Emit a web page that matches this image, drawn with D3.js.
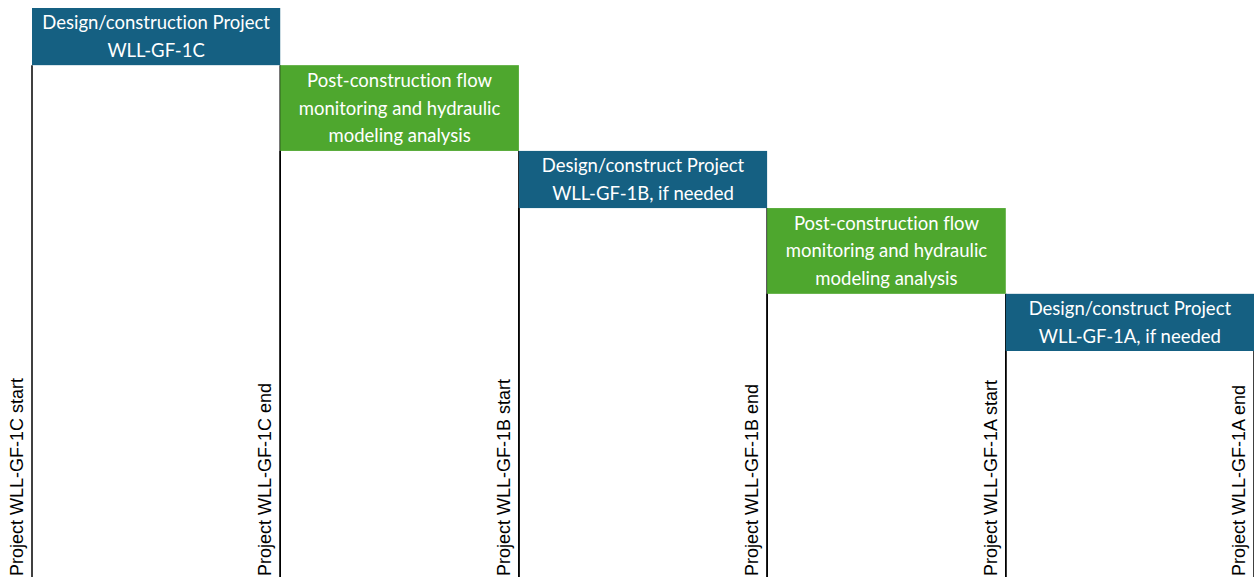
<!DOCTYPE html>
<html><head><meta charset="utf-8">
<script src="https://cdn.jsdelivr.net/npm/d3@7"></script>
<style>html,body{margin:0;padding:0;background:#fff;overflow:hidden}</style>
</head><body>
<svg id="chart" width="1254" height="577"></svg>
<script>
const phases = [
  "Design/construction Project\nWLL-GF-1C",
  "Post-construction flow\nmonitoring and hydraulic\nmodeling analysis",
  "Design/construct Project\nWLL-GF-1B, if needed",
  "Post-construction flow\nmonitoring and hydraulic\nmodeling analysis",
  "Design/construct Project\nWLL-GF-1A, if needed"
];
const phaseKind = ["design", "monitor", "design", "monitor", "design"];
const phaseStart = [0, 26, 51, 77, 102];
const phaseEnd = [26, 51, 77, 102, 128];
const milestoneLabels = [
  "Project WLL-GF-1C start", "Project WLL-GF-1C end",
  "Project WLL-GF-1B start", "Project WLL-GF-1B end",
  "Project WLL-GF-1A start", "Project WLL-GF-1A end"
];
const milestoneTimes = [0, 26, 51, 77, 102, 128];

const W = 1254, H = 577;
const svg = d3.select("#chart");
const x = d3.scaleLinear().domain([0, 128]).range([32, 1254]);
const lineCounts = phases.map(p => p.split("\n").length);
const cum = [0]; lineCounts.forEach((c, i) => cum.push(cum[i] + c));
const y = d3.scaleLinear().domain([0, cum[cum.length - 1]]).range([8, 351]);
const color = d3.scaleOrdinal().domain(["design", "monitor"]).range(["#156082", "#4EA72E"]);

const g = svg.append("g");
phases.forEach((p, i) => {
  const x0 = x(phaseStart[i]), x1 = x(phaseEnd[i]);
  const y0 = y(cum[i]), y1 = y(cum[i + 1]);
  g.append("line").attr("x1", x0).attr("x2", x0).attr("y1", y1).attr("y2", H)
    .attr("stroke", "#000").attr("stroke-width", 1.5);
  g.append("line").attr("x1", x1).attr("x2", x1).attr("y1", y1).attr("y2", H)
    .attr("stroke", "#000").attr("stroke-width", 1.5);
  g.append("rect").attr("x", x0).attr("y", y0).attr("width", x1 - x0).attr("height", y1 - y0)
    .attr("fill", color(phaseKind[i]));
  const lines = p.split("\n");
  const cy = (y0 + y1) / 2, lh = 27.6;
  const t = g.append("text").attr("text-anchor", "middle").attr("fill", "#fff")
    .style("font-family", "Lato, 'Noto Sans', sans-serif").style("font-size", "18.5px")
    .style("font-variant-ligatures", "none");
  lines.forEach((l, k) => {
    t.append("tspan").attr("x", (x0 + x1) / 2)
      .attr("y", cy + (k - (lines.length - 1) / 2) * lh).attr("dy", "0.35em").text(l);
  });
});

milestoneLabels.forEach((m, i) => {
  const lx = x(milestoneTimes[i]) - 9;
  svg.append("text").attr("transform", `translate(${lx},${H - 1}) rotate(-90)`)
    .attr("text-anchor", "start").attr("fill", "#000")
    .style("font-family", "'Liberation Sans', Arial, sans-serif").style("font-size", "18px")
    .text(m);
});
</script>
</body></html>
